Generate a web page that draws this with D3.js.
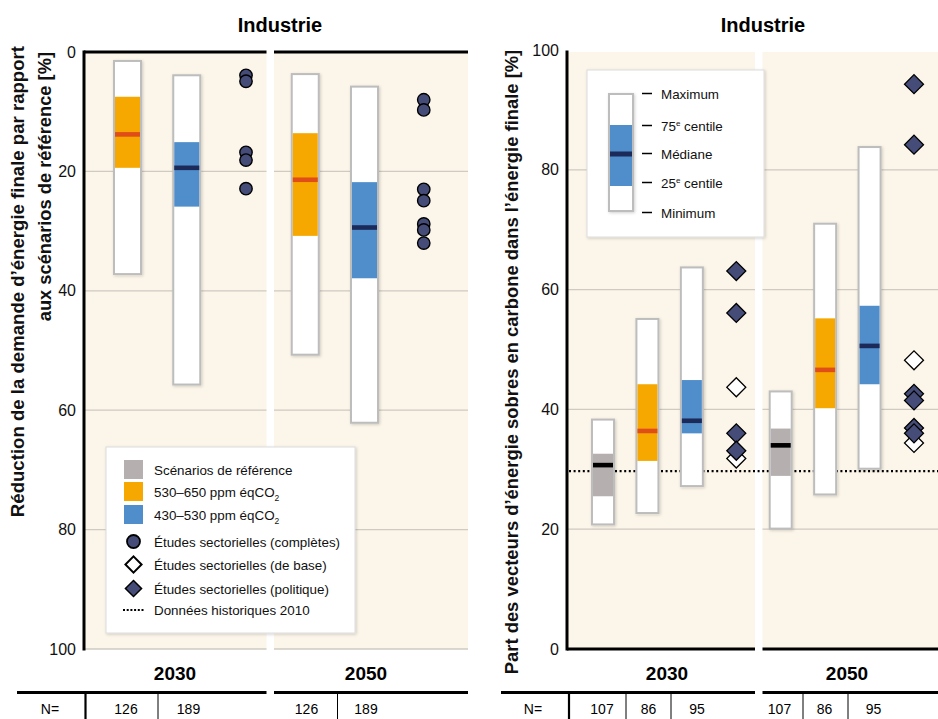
<!DOCTYPE html>
<html>
<head>
<meta charset="utf-8">
<script src="https://cdn.jsdelivr.net/npm/d3@7"></script>
<style>
  html, body { margin: 0; padding: 0; background: #fff; }
  svg { display: block; font-family: "Liberation Sans", Arial, sans-serif; }
</style>
</head>
<body>
<svg id="chart" width="938" height="719"></svg>
<script>
// ---------------- DATA ----------------
const years = ["2030", "2050"];

// Left chart: réduction de la demande d'énergie finale [%]
const leftSlots = ["2030|530–650", "2030|430–530", "2030|études", "2050|530–650", "2050|430–530", "2050|études"];
const leftBarSlots = ["2030|530–650", "2030|430–530", "2050|530–650", "2050|430–530"];
const leftBarType = ["530", "430", "530", "430"];
const leftMin = [1.5, 3.9, 3.7, 5.8];
const leftQ1 = [7.5, 15.1, 13.6, 21.8];
const leftMed = [13.8, 19.4, 21.4, 29.4];
const leftQ3 = [19.4, 25.9, 30.8, 37.9];
const leftMax = [37.2, 55.7, 50.7, 62.1];
const leftStudies2030 = [3.9, 4.9, 16.8, 18.1, 22.9];
const leftStudies2050 = [8.0, 9.7, 23.0, 24.9, 28.8, 29.8, 32.0];
const leftN = ["126", "189", "126", "189"];

// Right chart: part des vecteurs sobres en carbone [%]
const rightSlots = ["2030|ref", "2030|530–650", "2030|430–530", "2030|études", "2050|ref", "2050|530–650", "2050|430–530", "2050|études"];
const rightBarSlots = ["2030|ref", "2030|530–650", "2030|430–530", "2050|ref", "2050|530–650", "2050|430–530"];
const rightBarType = ["ref", "530", "430", "ref", "530", "430"];
const rightMin = [20.8, 22.7, 27.2, 20.1, 25.8, 30.1];
const rightQ1 = [25.5, 31.4, 36.0, 28.9, 40.2, 44.2];
const rightMed = [30.7, 36.4, 38.1, 34.0, 46.6, 50.6];
const rightQ3 = [32.6, 44.2, 44.9, 36.8, 55.2, 57.3];
const rightMax = [38.3, 55.1, 63.7, 43.0, 71.0, 83.8];
const rightPolicy2030 = [63.1, 56.1, 36.0, 33.1];
const rightBase2030 = [43.7, 31.8];
const rightPolicy2050 = [94.3, 84.2, 42.6, 41.5, 36.9, 36.0];
const rightBase2050 = [48.2, 34.4];
const historic2010 = 29.7;
const rightN = ["107", "86", "95", "107", "86", "95"];

const yTicks = [0, 20, 40, 60, 80, 100];

// ---------------- STYLE ----------------
const C = {
  cream: "#fcf5e9", grid: "#cfcac2",
  ref: "#b5b0af", o: "#f6a800", b: "#4f8dcb",
  medRef: "#000000", medO: "#e04e17", medB: "#1c2a59",
  dot: "#454c78", barStroke: "#bdbdbd"
};
const fill = { ref: C.ref, "530": C.o, "430": C.b };
const medC = { ref: C.medRef, "530": C.medO, "430": C.medB };

const svg = d3.select("#chart");
const defs = svg.append("defs");
const sh = defs.append("filter").attr("id", "sh").attr("x", "-30%").attr("y", "-10%").attr("width", "160%").attr("height", "120%");
sh.append("feDropShadow").attr("dx", 1).attr("dy", 1).attr("stdDeviation", 1.5).attr("flood-color", "#000").attr("flood-opacity", 0.18);

// ---------------- CHART BUILDER ----------------
function buildChart(cfg) {
  const g = svg.append("g");
  const y = d3.scaleLinear().domain([0, 100]).range(cfg.yRange);
  const x = d3.scalePoint().domain(cfg.slots).range(cfg.xRange);
  const panels = [[cfg.axisX, cfg.gapL], [cfg.gapR, cfg.right]];

  panels.forEach(p => {
    g.append("rect").attr("x", p[0]).attr("y", cfg.top).attr("width", p[1] - p[0]).attr("height", cfg.bottom - cfg.top).attr("fill", C.cream);
    g.append("g").selectAll("line").data(cfg.gridTicks).join("line")
      .attr("x1", p[0]).attr("x2", p[1]).attr("y1", d => y(d)).attr("y2", d => y(d))
      .attr("stroke", C.grid).attr("stroke-width", 1.3);
  });

  if (cfg.beforeBars) cfg.beforeBars(g, y);

  const ax = g.append("g").attr("transform", `translate(${cfg.axisX},0)`)
    .call(d3.axisLeft(y).tickValues(yTicks).tickSize(0).tickPadding(8));
  ax.select(".domain").remove();
  ax.selectAll("text").attr("font-size", 16).attr("fill", "#111").attr("font-family", "Liberation Sans, Arial, sans-serif");
  g.append("line").attr("x1", cfg.axisX).attr("x2", cfg.axisX).attr("y1", cfg.top - 1.5).attr("y2", cfg.bottom + 1.5).attr("stroke", "#000").attr("stroke-width", 3);
  panels.forEach(p => {
    g.append("line").attr("x1", p[0]).attr("x2", p[1]).attr("y1", cfg.hLineY).attr("y2", cfg.hLineY).attr("stroke", "#000").attr("stroke-width", 3);
  });

  g.append("text").attr("x", cfg.titleX).attr("y", 32).attr("text-anchor", "middle").attr("font-size", 20).attr("font-weight", "bold").text("Industrie");

  const bw = cfg.barW;
  const bars = cfg.barSlots.map((s, i) => ({ s, t: cfg.barType[i], min: cfg.min[i], q1: cfg.q1[i], med: cfg.med[i], q3: cfg.q3[i], max: cfg.max[i] }));
  const bg = g.append("g");
  bars.forEach(d => {
    const x0 = x(d.s) - bw / 2;
    const yA = Math.min(y(d.min), y(d.max)), yB = Math.max(y(d.min), y(d.max));
    bg.append("rect").attr("x", x0).attr("y", yA).attr("width", bw).attr("height", yB - yA)
      .attr("fill", "#fff").attr("stroke", C.barStroke).attr("stroke-width", 2).attr("filter", "url(#sh)");
    const qA = Math.min(y(d.q1), y(d.q3)), qB = Math.max(y(d.q1), y(d.q3));
    bg.append("rect").attr("x", x0 + 1).attr("y", qA).attr("width", bw - 2).attr("height", qB - qA).attr("fill", fill[d.t]);
    bg.append("rect").attr("x", x0 + 1).attr("y", y(d.med) - 2.3).attr("width", bw - 2).attr("height", 4.6).attr("fill", medC[d.t]);
  });

  return { g, x, y };
}

// ---------------- LEFT CHART ----------------
const L = buildChart({
  slots: leftSlots, xRange: [127.5, 423.75], yRange: [52, 649],
  axisX: 84, gapL: 266.5, gapR: 274, right: 468, top: 52, bottom: 649, hLineY: 52,
  gridTicks: [20, 40, 60, 80, 100], titleX: 280,
  barSlots: leftBarSlots, barType: leftBarType, barW: 27,
  min: leftMin, q1: leftQ1, med: leftMed, q3: leftQ3, max: leftMax
});
[["2030|études", leftStudies2030], ["2050|études", leftStudies2050]].forEach(([s, vals]) => {
  L.g.append("g").selectAll("circle").data(vals).join("circle")
    .attr("cx", L.x(s)).attr("cy", d => L.y(d)).attr("r", 6.2)
    .attr("fill", C.dot).attr("stroke", "#000").attr("stroke-width", 1.4);
});

// ---------------- RIGHT CHART ----------------
const R = buildChart({
  slots: rightSlots, xRange: [603, 914], yRange: [649, 50],
  axisX: 567, gapL: 755, gapR: 762.5, right: 938, top: 52, bottom: 649, hLineY: 649,
  gridTicks: [20, 40, 60, 80], titleX: 763,
  barSlots: rightBarSlots, barType: rightBarType, barW: 22,
  min: rightMin, q1: rightQ1, med: rightMed, q3: rightQ3, max: rightMax,
  beforeBars: (g, y) => {
    g.append("line").attr("x1", 569).attr("x2", 938).attr("y1", y(historic2010)).attr("y2", y(historic2010))
      .attr("stroke", "#000").attr("stroke-width", 2.2).attr("stroke-dasharray", "2,2.6");
  }
});
const diamond = d3.symbol().type(d3.symbolSquare).size(180);
function diamonds(g, xs, vals, filled) {
  g.append("g").selectAll("path").data(vals).join("path")
    .attr("d", diamond)
    .attr("transform", d => `translate(${xs},${R.y(d)}) rotate(45)`)
    .attr("fill", filled ? C.dot : "#fff").attr("stroke", "#000").attr("stroke-width", 1.3);
}
diamonds(R.g, R.x("2030|études"), rightBase2030, false);
diamonds(R.g, R.x("2030|études"), rightPolicy2030, true);
diamonds(R.g, R.x("2050|études"), rightBase2050, false);
diamonds(R.g, R.x("2050|études"), rightPolicy2050, true);

// ---------------- Y TITLES ----------------
function vtext(x, y, txt, size, anchor) {
  svg.append("text").attr("transform", `translate(${x},${y}) rotate(-90)`).attr("text-anchor", anchor)
    .attr("font-size", size).attr("font-weight", "bold").attr("fill", "#111").text(txt);
}
vtext(24, 46, "Réduction de la demande d’énergie finale par rapport", 18.6, "end");
vtext(51, 52, "aux scénarios de référence [%]", 18.3, "end");
vtext(518, 362, "Part des vecteurs d’énergie sobres en carbone dans l’énergie finale [%]", 18.4, "middle");

// ---------------- YEAR LABELS & N TABLE ----------------
function yearRow(labelsX) {
  years.forEach((yr, i) => {
    svg.append("text").attr("x", labelsX[i]).attr("y", 680).attr("text-anchor", "middle")
      .attr("font-size", 19).attr("font-weight", "bold").text(yr);
  });
}
yearRow([175, 366]);
yearRow([667, 847]);

function table(segs, vlines, thick, nX, cellX, vals) {
  segs.forEach(s => svg.append("line").attr("x1", s[0]).attr("x2", s[1]).attr("y1", 692.5).attr("y2", 692.5).attr("stroke", "#000").attr("stroke-width", 3));
  svg.append("line").attr("x1", thick).attr("x2", thick).attr("y1", 692).attr("y2", 719).attr("stroke", "#000").attr("stroke-width", 2.2);
  vlines.forEach(v => svg.append("line").attr("x1", v).attr("x2", v).attr("y1", 692).attr("y2", 719).attr("stroke", "#000").attr("stroke-width", 1));
  svg.append("text").attr("x", nX).attr("y", 714).attr("text-anchor", "middle").attr("font-size", 14).text("N=");
  vals.forEach((v, i) => svg.append("text").attr("x", cellX[i]).attr("y", 714).attr("text-anchor", "middle").attr("font-size", 14).text(v));
}
table([[17, 266.5], [274, 468]], [158, 337.5], 85.5, 50, [126, 188.5, 306.5, 366], leftN);
table([[501, 755], [762.5, 938]], [626, 671, 803, 848], 569, 533, [602, 648.5, 697, 779.5, 824.5, 873.5], rightN);

// ---------------- LEGEND LEFT ----------------
const lg = svg.append("g");
lg.append("rect").attr("x", 106).attr("y", 447).attr("width", 249).attr("height", 186).attr("fill", "#fff")
  .attr("stroke", "#dcdcdc").attr("stroke-width", 1).attr("filter", "url(#sh)");
const legSw = [["ref", "Scénarios de référence", null], ["530", "530–650 ppm éqCO", "2"], ["430", "430–530 ppm éqCO", "2"]];
const legSwY = [469.5, 491.5, 514.5];
legSw.forEach((d, i) => {
  lg.append("rect").attr("x", 124).attr("y", legSwY[i] - 9.5).attr("width", 19).attr("height", 19).attr("fill", fill[d[0]]);
  const t = lg.append("text").attr("x", 154).attr("y", legSwY[i] + 5).attr("font-size", 13.4).attr("fill", "#111").text(d[1]);
  if (d[2]) t.append("tspan").attr("font-size", 8.5).attr("dy", 4).text(d[2]);
});
lg.append("circle").attr("cx", 133.5).attr("cy", 541.5).attr("r", 6.5).attr("fill", C.dot).attr("stroke", "#000").attr("stroke-width", 1.8);
lg.append("path").attr("d", d3.symbol().type(d3.symbolSquare).size(130)).attr("transform", "translate(133.5,564.5) rotate(45)")
  .attr("fill", "#fff").attr("stroke", "#000").attr("stroke-width", 2);
lg.append("path").attr("d", d3.symbol().type(d3.symbolSquare).size(130)).attr("transform", "translate(133.5,588.5) rotate(45)")
  .attr("fill", C.dot).attr("stroke", "#000").attr("stroke-width", 1.5);
lg.append("line").attr("x1", 123).attr("x2", 144).attr("y1", 610).attr("y2", 610).attr("stroke", "#000").attr("stroke-width", 2).attr("stroke-dasharray", "2,1.7");
const legTxt = ["Études sectorielles (complètes)", "Études sectorielles (de base)", "Études sectorielles (politique)", "Données historiques 2010"];
const legTxtY = [541.5, 564.5, 588.5, 610];
legTxt.forEach((t, i) => lg.append("text").attr("x", 154).attr("y", legTxtY[i] + 5).attr("font-size", 13.4).attr("fill", "#111").text(t));

// ---------------- LEGEND RIGHT ----------------
const rg = svg.append("g");
rg.append("rect").attr("x", 587).attr("y", 70).attr("width", 177).attr("height", 167).attr("fill", "#fff")
  .attr("stroke", "#dcdcdc").attr("stroke-width", 1).attr("filter", "url(#sh)");
rg.append("rect").attr("x", 609).attr("y", 94).attr("width", 24).attr("height", 117).attr("fill", "#fff")
  .attr("stroke", C.barStroke).attr("stroke-width", 2).attr("filter", "url(#sh)");
rg.append("rect").attr("x", 610).attr("y", 125).attr("width", 22).attr("height", 61).attr("fill", C.b);
rg.append("rect").attr("x", 610).attr("y", 151.5).attr("width", 22).attr("height", 5).attr("fill", C.medB);
const rLab = [["Maximum", null], ["75", "e centile"], ["Médiane", null], ["25", "e centile"], ["Minimum", null]];
const rLabY = [93.5, 125.5, 153.5, 182.5, 212.5];
rLab.forEach((d, i) => {
  rg.append("line").attr("x1", 642).attr("x2", 652).attr("y1", rLabY[i]).attr("y2", rLabY[i]).attr("stroke", "#000").attr("stroke-width", 1.5);
  const t = rg.append("text").attr("x", 661).attr("y", rLabY[i] + 5).attr("font-size", 13.4).attr("fill", "#111").text(d[0]);
  if (d[1]) {
    t.append("tspan").attr("font-size", 8).attr("dy", -5).text("e");
    t.append("tspan").attr("dy", 5).text(d[1].slice(1));
  }
});
</script>
</body>
</html>
